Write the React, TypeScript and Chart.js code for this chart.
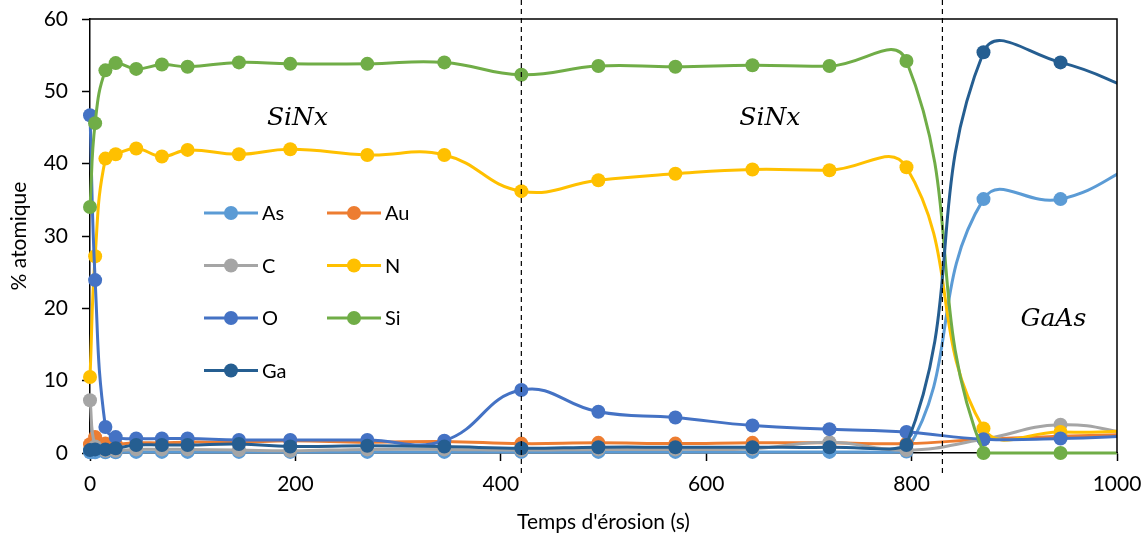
import React, { useEffect, useRef } from "react";
import { Chart, registerables } from "chart.js";

Chart.register(...registerables);

// Erosion time (s)
const times = [0, 5, 15, 25, 45, 70, 95, 145, 195, 270, 345, 420, 495, 570, 645, 720, 795, 870, 945, 1020];

// Atomic % per element
const asValues = [0.1, 0.1, 0.1, 0.1, 0.15, 0.15, 0.15, 0.15, 0.15, 0.15, 0.15, 0.15, 0.15, 0.15, 0.15, 0.15, 0.2, 35.1, 35.1, 40.0];
const auValues = [1.2, 2.2, 1.3, 1.2, 1.4, 1.4, 1.5, 1.5, 1.7, 1.5, 1.6, 1.3, 1.4, 1.3, 1.4, 1.4, 1.3, 1.9, 2.3, 2.6];
const cValues = [7.3, 0.9, 0.3, 0.3, 0.5, 0.5, 0.5, 0.4, 0.3, 0.5, 0.5, 0.4, 0.5, 0.5, 0.6, 1.5, 0.4, 1.9, 3.9, 2.5];
const nValues = [10.5, 27.2, 40.7, 41.3, 42.1, 41.0, 41.9, 41.3, 42.0, 41.2, 41.2, 36.2, 37.7, 38.6, 39.2, 39.1, 39.5, 3.4, 2.9, 3.05];
const oValues = [46.7, 23.9, 3.6, 2.2, 2.0, 2.0, 2.0, 1.8, 1.8, 1.8, 1.7, 8.7, 5.7, 4.9, 3.8, 3.3, 2.9, 1.9, 2.0, 2.4];
const siValues = [34.0, 45.6, 52.9, 53.9, 53.1, 53.7, 53.4, 54.0, 53.8, 53.8, 54.0, 52.3, 53.5, 53.4, 53.6, 53.5, 54.2, 0, 0, 0];
const gaValues = [0.4, 0.5, 0.5, 0.65, 1.1, 1.1, 1.1, 1.25, 0.9, 1.0, 0.9, 0.65, 0.8, 0.8, 0.8, 0.8, 1.1, 55.4, 54.0, 50.0];

const seriesNames = ["As", "Au", "C", "N", "O", "Si", "Ga"];
const seriesValues = [asValues, auValues, cValues, nValues, oValues, siValues, gaValues];
const seriesColors = ["#5B9BD5", "#ED7D31", "#A5A5A5", "#FFC000", "#4472C4", "#70AD47", "#255E91"];

// Layer boundaries (s) and region labels
const boundaryTimes = [420, 830];
const regionLabels = ["SiNx", "SiNx", "GaAs"];
const regionLabelX = [202, 662, 938];
const regionLabelY = [46.3, 46.3, 18.4];

const xTicks = [0, 200, 400, 600, 800, 1000];
const yTicks = [0, 10, 20, 30, 40, 50, 60];

const FONT = "Lato, 'Open Sans', sans-serif";

export default function App() {
  const ref = useRef<HTMLCanvasElement>(null);

  useEffect(() => {
    document.body.style.margin = "0";
    const canvas = ref.current;
    if (!canvas) return;

    const overlay = {
      id: "overlay",
      afterDraw(chart: any) {
        const { ctx, chartArea } = chart;
        const xs = chart.scales.x;
        const ys = chart.scales.y;
        ctx.save();
        // top & right frame
        ctx.strokeStyle = "#000";
        ctx.lineWidth = 1.5;
        ctx.beginPath();
        ctx.moveTo(chartArea.left, chartArea.top);
        ctx.lineTo(chartArea.right, chartArea.top);
        ctx.lineTo(chartArea.right, chartArea.bottom);
        ctx.stroke();

        // dashed boundaries
        ctx.setLineDash([5, 4]);
        ctx.lineWidth = 1.2;
        boundaryTimes.forEach((t) => {
          const px = xs.getPixelForValue(t);
          ctx.beginPath();
          ctx.moveTo(px, 0);
          ctx.lineTo(px, chartArea.bottom + 22);
          ctx.stroke();
        });
        ctx.setLineDash([]);

        // region labels
        ctx.fillStyle = "#000";
        ctx.font = "italic 25px 'DejaVu Serif'";
        ctx.textAlign = "center";
        ctx.textBaseline = "middle";
        regionLabels.forEach((txt, i) => {
          ctx.fillText(txt, xs.getPixelForValue(regionLabelX[i]), ys.getPixelForValue(regionLabelY[i]));
        });

        // legend (2 columns inside plot)
        ctx.font = `20px ${FONT}`;
        ctx.textAlign = "left";
        const colX = [204, 327];
        const rowY = [213, 265.5, 318, 370.5];
        seriesNames.forEach((name, i) => {
          const x0 = colX[i % 2];
          const y0 = rowY[Math.floor(i / 2)];
          ctx.strokeStyle = seriesColors[i];
          ctx.lineWidth = 3;
          ctx.beginPath();
          ctx.moveTo(x0, y0);
          ctx.lineTo(x0 + 54, y0);
          ctx.stroke();
          ctx.fillStyle = seriesColors[i];
          ctx.beginPath();
          ctx.arc(x0 + 27, y0, 7, 0, Math.PI * 2);
          ctx.fill();
          ctx.fillStyle = "#000";
          ctx.fillText(name, x0 + 58, y0 + 1);
        });
        ctx.restore();
      },
    };

    const datasets = seriesNames.map((name, i) => ({
      label: name,
      data: times.map((t, j) => ({ x: t, y: seriesValues[i][j] })),
      borderColor: seriesColors[i],
      backgroundColor: seriesColors[i],
      pointBackgroundColor: seriesColors[i],
      pointBorderColor: seriesColors[i],
      pointRadius: 7,
      pointBorderWidth: 0,
      borderWidth: 3,
      tension: 0.45,
      order: seriesNames.length - 1 - i,
      clip: { left: 10, top: 10, right: 0, bottom: 10 },
    }));

    const chart = new Chart(canvas, {
      type: "line",
      data: { datasets },
      plugins: [overlay],
      options: {
        animation: false,
        responsive: true,
        maintainAspectRatio: false,
        layout: { padding: { left: 0, top: 19, right: 30, bottom: 0 } },
        plugins: { legend: { display: false }, tooltip: { enabled: false } },
        scales: {
          x: {
            type: "linear",
            min: 0,
            max: 1000,
            afterFit: (s: any) => { s.height = 88; s.paddingLeft = 0; s.paddingRight = 0; },
            afterBuildTicks: (s: any) => { s.ticks = xTicks.map((v) => ({ value: v })); },
            ticks: { font: { family: FONT, size: 21 }, color: "#000", padding: 11, callback: (v: any) => String(v) },
            grid: { display: true, drawOnChartArea: false, drawTicks: true, tickLength: 8, tickColor: "#000", tickWidth: 1.5 },
            border: { display: true, color: "#000", width: 1.5 },
            title: { display: true, text: "Temps d'érosion (s)", font: { family: FONT, size: 21 }, color: "#000", padding: { top: 0, bottom: 6 } },
          },
          y: {
            min: 0,
            max: 60,
            afterFit: (s: any) => { s.width = 90; s.paddingTop = 0; s.paddingBottom = 0; },
            afterBuildTicks: (s: any) => { s.ticks = yTicks.map((v) => ({ value: v })); },
            ticks: { font: { family: FONT, size: 21 }, color: "#000", padding: 14, callback: (v: any) => String(v) },
            grid: { display: true, drawOnChartArea: false, drawTicks: true, tickLength: 8, tickColor: "#000", tickWidth: 1.5 },
            border: { display: true, color: "#000", width: 1.5 },
            title: { display: true, text: "% atomique", font: { family: FONT, size: 21 }, color: "#000", padding: { top: 7, bottom: 0 } },
          },
        },
      },
    });

    return () => chart.destroy();
  }, []);

  return (
    <div style={{ width: 1147, height: 541, position: "relative" }}>
      <canvas ref={ref} />
    </div>
  );
}
